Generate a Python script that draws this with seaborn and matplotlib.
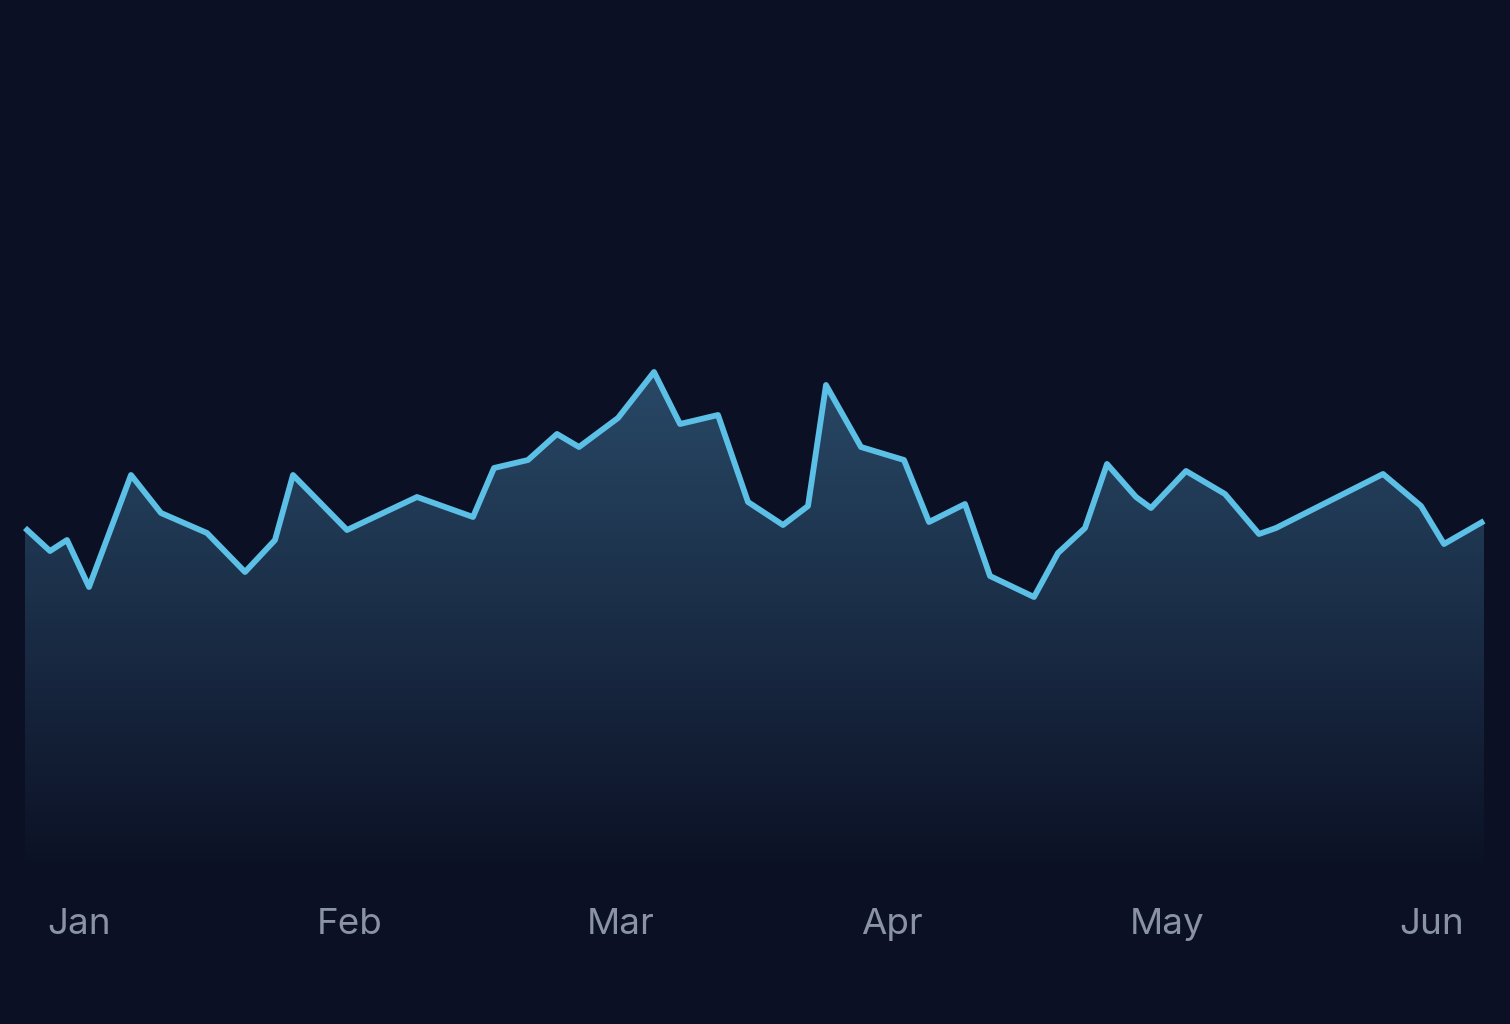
import numpy as np
import pandas as pd
import matplotlib
matplotlib.use("Agg")
import matplotlib.pyplot as plt
from matplotlib.patches import PathPatch
from matplotlib.colors import LinearSegmentedColormap
import seaborn as sns

# day offsets from the start of the period and the series values
days = [0, 2.5, 4.2, 6.4, 10.6, 13.6, 18.2, 22.0, 25.0, 26.8, 32.2, 39.2, 44.8, 46.9,
        50.3, 53.2, 55.4, 59.3, 62.9, 65.5, 69.3, 72.3, 75.8, 78.3, 80.1, 83.6, 87.9,
        90.4, 94.0, 96.5, 100.9, 103.3, 106.0, 108.2, 111.1, 112.6, 116.1, 120.0,
        123.4, 125.1, 135.8, 139.6, 141.9, 145.9]
values = [70.4, 65.8, 68.0, 58.6, 81.0, 73.4, 69.4, 61.6, 68.0, 81.0, 70.0, 76.6, 72.6,
          82.4, 84.0, 89.2, 86.6, 92.4, 101.6, 91.2, 93.0, 75.6, 71.0, 74.8, 99.0, 86.6,
          84.0, 71.6, 75.2, 60.8, 56.6, 65.4, 70.4, 83.2, 76.6, 74.4, 81.8, 77.2, 69.2,
          70.4, 81.2, 74.8, 67.2, 71.8]
month_labels = ["Jan", "Feb", "Mar", "Apr", "May", "Jun"]
month_pos = [5.4, 32.5, 59.6, 86.7, 114.2, 140.7]

df = pd.DataFrame({"day": days, "value": values})

bg = "#0b1024"
line_color = "#5bbfe6"

sns.set_theme(style="dark", rc={"figure.facecolor": bg, "axes.facecolor": bg})
plt.rcParams["font.family"] = ["Inter", "DejaVu Sans"]

fig = plt.figure(figsize=(15.1, 10.24), dpi=100)
ax = fig.add_axes([0, 144 / 1024, 1, 880 / 1024])
ax.set_facecolor(bg)

# gradient area under the line, fading out towards the bottom
poly = ax.fill_between(df["day"], df["value"], 0, color="none", lw=0)
clip = PathPatch(poly.get_paths()[0], transform=ax.transData, facecolor="none", edgecolor="none")
ax.add_patch(clip)
cmap = LinearSegmentedColormap.from_list(
    "fade", [(0.29, 0.53, 0.69, 0.0), (0.29, 0.53, 0.69, 0.48)])
grad = np.linspace(0, 1, 256).reshape(-1, 1)
img = ax.imshow(grad, cmap=cmap, aspect="auto", origin="lower",
                extent=[df["day"].min(), df["day"].max(), 0, max(values)],
                interpolation="bicubic", zorder=1)
img.set_clip_path(clip)

sns.lineplot(data=df, x="day", y="value", ax=ax, color=line_color, linewidth=4.2,
             zorder=3, solid_joinstyle="round", solid_capstyle="butt")

ax.set_xlim(-2.5, 148.5)
ax.set_ylim(0, 176)
ax.set_xticks(month_pos, month_labels)
ax.set_yticks([])
ax.tick_params(axis="x", length=0, pad=20, labelsize=26.5, labelcolor="#8a92a6")
ax.set_xlabel("")
ax.set_ylabel("")
for s in ax.spines.values():
    s.set_visible(False)
ax.grid(False)

fig.savefig("out.png", dpi=100, facecolor=bg)
